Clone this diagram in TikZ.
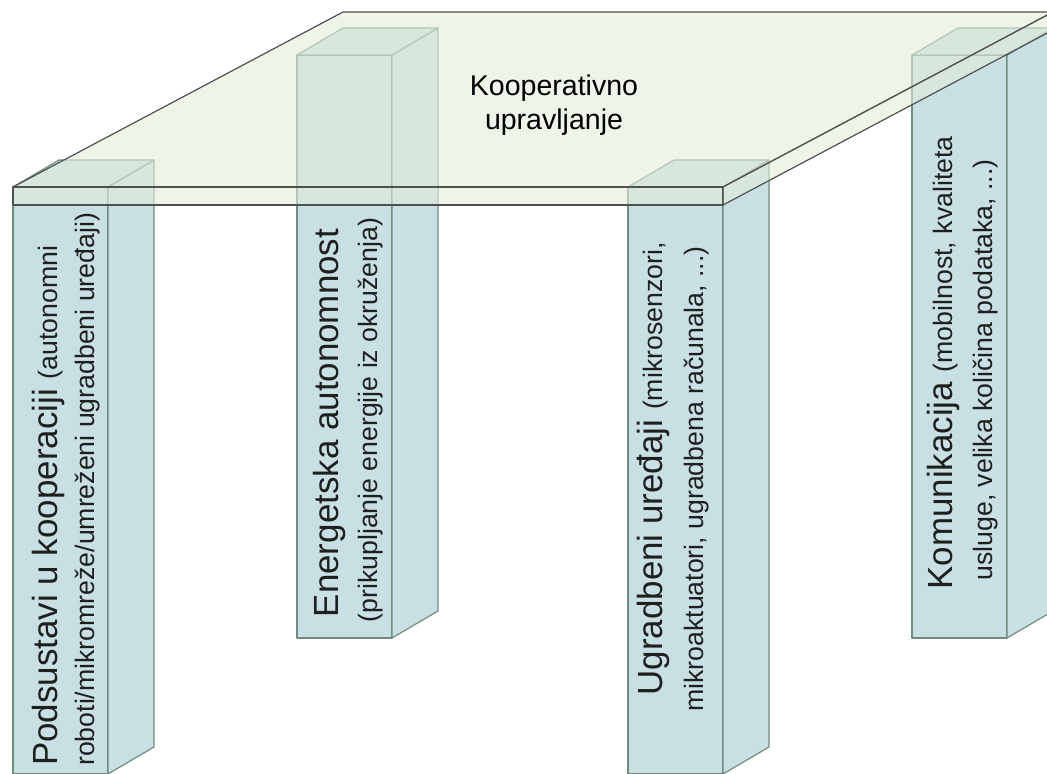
\documentclass[tikz,border=0pt]{standalone}
\usepackage{fontspec}
\setmainfont{Liberation Sans}

\definecolor{pillarblue}{RGB}{200,224,228}
\definecolor{pillaredge}{RGB}{112,140,126}
\definecolor{tablegreen}{RGB}{228,236,218}
\definecolor{tableedge}{RGB}{80,80,80}

\newcommand{\labelbig}[1]{{\fontsize{26.2}{30}\selectfont #1}}
\newcommand{\labelsmall}[1]{{\fontsize{20}{24}\selectfont #1}}
\newcommand{\labeltable}[1]{{\fontsize{21.4}{25}\selectfont #1}}

\tikzset{
  pillarface/.style={fill=pillarblue, draw=pillaredge, line width=0.9pt, line join=round},
  tableface/.style={fill=tablegreen, fill opacity=0.6, draw=tableedge, line width=0.9pt, line join=round},
  pillarlabel/.style={rotate=90, inner sep=0pt, text=black!88},
}

\begin{document}
\begin{tikzpicture}[x=0.75pt,y=-0.75pt]
        \useasboundingbox (0,0) rectangle (1047,774);
        \clip (0,0) rectangle (1047,774);
        % Draw the four pillars (front face, side, top)
        \foreach \px/\pt/\pb in {297/55/638, 912/55/638, 13/187/774, 628/187/774} {
            \draw[pillarface] (\px,\pt) rectangle ({\px+95},\pb);
            \draw[pillarface] ({\px+95},\pt) -- ({\px+141},{\pt-27}) -- ({\px+141},{\pb-27}) -- ({\px+95},\pb) -- cycle;
            \draw[pillarface] (\px,\pt) -- ({\px+46},{\pt-27}) -- ({\px+141},{\pt-27}) -- ({\px+95},\pt) -- cycle;
        }
        % Draw the translucent table top
        \draw[tableface] (13,187) -- (723,187) -- (1053,12) -- (343,12) -- cycle;
        \draw[tableface] (13,187) rectangle (723,205);
        \draw[tableface] (723,187) -- (1053,12) -- (1053,30) -- (723,205) -- cycle;
        % Table label
        \node[anchor=base, inner sep=0pt] (coop) at (554,96) {\labeltable{Kooperativno}};
        \node[anchor=base, inner sep=0pt] (manage) at (554,129) {\labeltable{upravljanje}};
        % Pillar labels
        \node[pillarlabel, anchor=base west] (subsys) at (57,766) {\labelbig{Podsustavi u kooperaciji }\labelsmall{(autonomni}};
        \node[pillarlabel, anchor=base west] (subsysb) at (94,766) {\labelsmall{roboti/mikromreže/umreženi ugradbeni uređaji)}};
        \node[pillarlabel, anchor=base] (energy) at (338,423) {\labelbig{Energetska autonomnost}};
        \node[pillarlabel, anchor=base] (energyb) at (377,420) {\labelsmall{(prikupljanje energije iz okruženja)}};
        \node[pillarlabel, anchor=base] (embed) at (662,469) {\labelbig{Ugradbeni uređaji }\labelsmall{(mikrosenzori,}};
        \node[pillarlabel, anchor=base] (embedb) at (703,479) {\labelsmall{mikroaktuatori, ugradbena računala, ...)}};
        \node[pillarlabel, anchor=base] (comm) at (952,363) {\labelbig{Komunikacija }\labelsmall{(mobilnost, kvaliteta}};
        \node[pillarlabel, anchor=base] (commb) at (992,370) {\labelsmall{usluge, velika količina podataka, ...)}};
    \end{tikzpicture}
\end{document}
